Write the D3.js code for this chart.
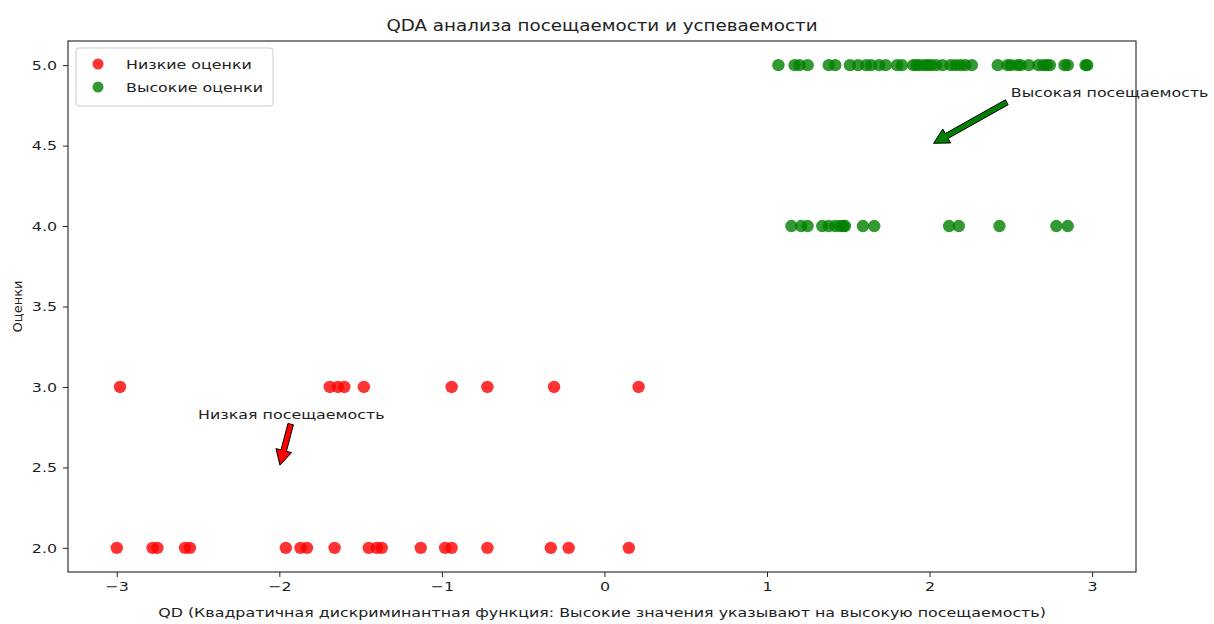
<!DOCTYPE html>
<html><head><meta charset="utf-8">
<script src="https://cdn.jsdelivr.net/npm/d3@7"></script>
<style>body{margin:0;background:#fff;} text{font-family:"DejaVu Sans",sans-serif;fill:#222;}</style>
</head><body><svg id="c" width="1214" height="624"></svg>
<script>
const lowX = [-2.98,-1.69,-1.64,-1.60,-1.48,-0.94,-0.72,-0.31,0.21,
  -3.00,-2.78,-2.75,-2.58,-2.55,-1.96,-1.87,-1.83,-1.66,-1.45,-1.40,-1.37,-1.13,-0.98,-0.94,-0.72,-0.33,-0.22,0.15];
const lowY = [3,3,3,3,3,3,3,3,3,
  2,2,2,2,2,2,2,2,2,2,2,2,2,2,2,2,2,2,2];
const highX = [1.15,1.21,1.25,1.34,1.38,1.42,1.45,1.47,1.48,1.59,1.66,2.12,2.18,2.43,2.78,2.85,
  1.07,1.17,1.20,1.25,1.38,1.42,1.51,1.56,1.61,1.64,1.69,1.73,1.80,1.83,1.90,1.92,1.94,1.97,1.99,2.01,2.04,2.08,2.13,2.16,2.19,2.22,2.26,2.42,2.48,2.50,2.54,2.56,2.61,2.67,2.70,2.72,2.74,2.83,2.85,2.96,2.97];
const highY = [4,4,4,4,4,4,4,4,4,4,4,4,4,4,4,4,
  5,5,5,5,5,5,5,5,5,5,5,5,5,5,5,5,5,5,5,5,5,5,5,5,5,5,5,5,5,5,5,5,5,5,5,5,5,5,5,5,5];
const xTicks = [-3,-2,-1,0,1,2,3];
const yTicks = [2.0,2.5,3.0,3.5,4.0,4.5,5.0];
const seriesNames = ["Низкие оценки","Высокие оценки"];
const seriesColors = ["#ff0000","#008000"];
const annotations = [
  {text:"Низкая посещаемость", xy:[-2,2.5], xytext:[-2.5,2.8], color:"#ff0000"},
  {text:"Высокая посещаемость", xy:[2,4.5], xytext:[2.5,4.8], color:"#008000"}
];
const title = "QDA анализа посещаемости и успеваемости";
const xLabel = "QD (Квадратичная дискриминантная функция: Высокие значения указывают на высокую посещаемость)";
const yLabel = "Оценки";

const S = 1.22; // horizontal text stretch seen in the reference
const svg = d3.select("#c");
const L=68,R=1136,T=41,B=572;
const x = d3.scaleLinear().domain([-3.30,3.27]).range([L,R]);
const y = d3.scaleLinear().domain([1.85,5.15]).range([B,T]);

function stxt(g, px, py, str, size, anchor){
  return g.append("text").attr("transform",`translate(${px},${py}) scale(${S},1)`)
    .attr("font-size",size).attr("text-anchor",anchor||"start").text(str);
}

// axes
const xa = svg.append("g").attr("transform",`translate(0,${B})`)
  .call(d3.axisBottom(x).tickValues(xTicks).tickFormat(d3.format("d")).tickSize(5).tickPadding(5));
const ya = svg.append("g").attr("transform",`translate(${L},0)`)
  .call(d3.axisLeft(y).tickValues(yTicks).tickFormat(d3.format(".1f")).tickSize(5).tickPadding(6));
[xa,ya].forEach(a=>{a.select(".domain").remove();a.selectAll("text").attr("font-size",13).style("font-family","DejaVu Sans").attr("fill","#222");a.selectAll("line").attr("stroke","#222");});
xa.selectAll(".tick text").attr("transform",`scale(${S},1)`);
ya.selectAll(".tick text").attr("x",-11/S).attr("transform",`scale(${S},1)`);
svg.append("rect").attr("x",L).attr("y",T).attr("width",R-L).attr("height",B-T).attr("fill","none").attr("stroke","#222").attr("stroke-width",1.1);

// points
const series = [
  {x:lowX,y:lowY,c:seriesColors[0]},
  {x:highX,y:highY,c:seriesColors[1]}
];
series.forEach(s=>{
  svg.append("g").selectAll("circle").data(s.x.map((v,i)=>[v,s.y[i]])).join("circle")
    .attr("cx",d=>x(d[0])).attr("cy",d=>y(d[1])).attr("r",6.2).attr("fill",s.c).attr("fill-opacity",0.8);
});

// title & labels
stxt(svg,(L+R)/2,T-10,title,15,"middle");
stxt(svg,602,617,xLabel,13,"middle");
svg.append("text").attr("transform",`translate(22,${(T+B)/2}) rotate(-90)`).attr("text-anchor","middle").attr("font-size",13).text(yLabel);

// annotations
annotations.forEach(a=>{
  const ax=x(a.xytext[0]), ay=y(a.xytext[1]);
  const t = stxt(svg,ax,ay,a.text,13,"start");
  const bb = t.node().getBBox();
  const bx0=ax+bb.x*S, bw=bb.width*S, by0=ay+bb.y, bh=bb.height;
  const tx = x(a.xy[0]), ty = y(a.xy[1]);
  const xs=[bx0,bx0+bw/2,bx0+bw], ys=[by0,by0+bh/2,by0+bh];
  let sx = xs.reduce((p,c)=>Math.abs(c-tx)<Math.abs(p-tx)?c:p);
  let sy = ys.reduce((p,c)=>Math.abs(c-ty)<Math.abs(p-ty)?c:p);
  const dx=tx-sx, dy=ty-sy, len=Math.hypot(dx,dy), ux=dx/len, uy=dy/len;
  const sh=0.05*len;
  const x0=sx+ux*sh, y0=sy+uy*sh, x1=tx-ux*sh, y1=ty-uy*sh;
  const L2=Math.hypot(x1-x0,y1-y0);
  const w=5.6/2, hw=16/2, hl=15;
  const px=-uy, py=ux;
  const bx=x0+ux*(L2-hl), by=y0+uy*(L2-hl);
  const pts=[[x0+px*w,y0+py*w],[bx+px*w,by+py*w],[bx+px*hw,by+py*hw],[x1,y1],[bx-px*hw,by-py*hw],[bx-px*w,by-py*w],[x0-px*w,y0-py*w]];
  svg.append("path").attr("d","M"+pts.map(p=>p.join(",")).join("L")+"Z").attr("fill",a.color).attr("stroke","#000").attr("stroke-width",1).attr("stroke-linejoin","miter");
});

// legend
const lg = svg.append("g");
lg.append("rect").attr("x",76).attr("y",48).attr("width",197).attr("height",58).attr("rx",3).attr("fill","#fff").attr("fill-opacity",0.8).attr("stroke","#ccc");
seriesNames.forEach((n,i)=>{
  lg.append("circle").attr("cx",98).attr("cy",64+i*23).attr("r",5.5).attr("fill",seriesColors[i]).attr("fill-opacity",0.8);
  stxt(lg,126,64+i*23+4.5,n,13,"start");
});
</script></body></html>
